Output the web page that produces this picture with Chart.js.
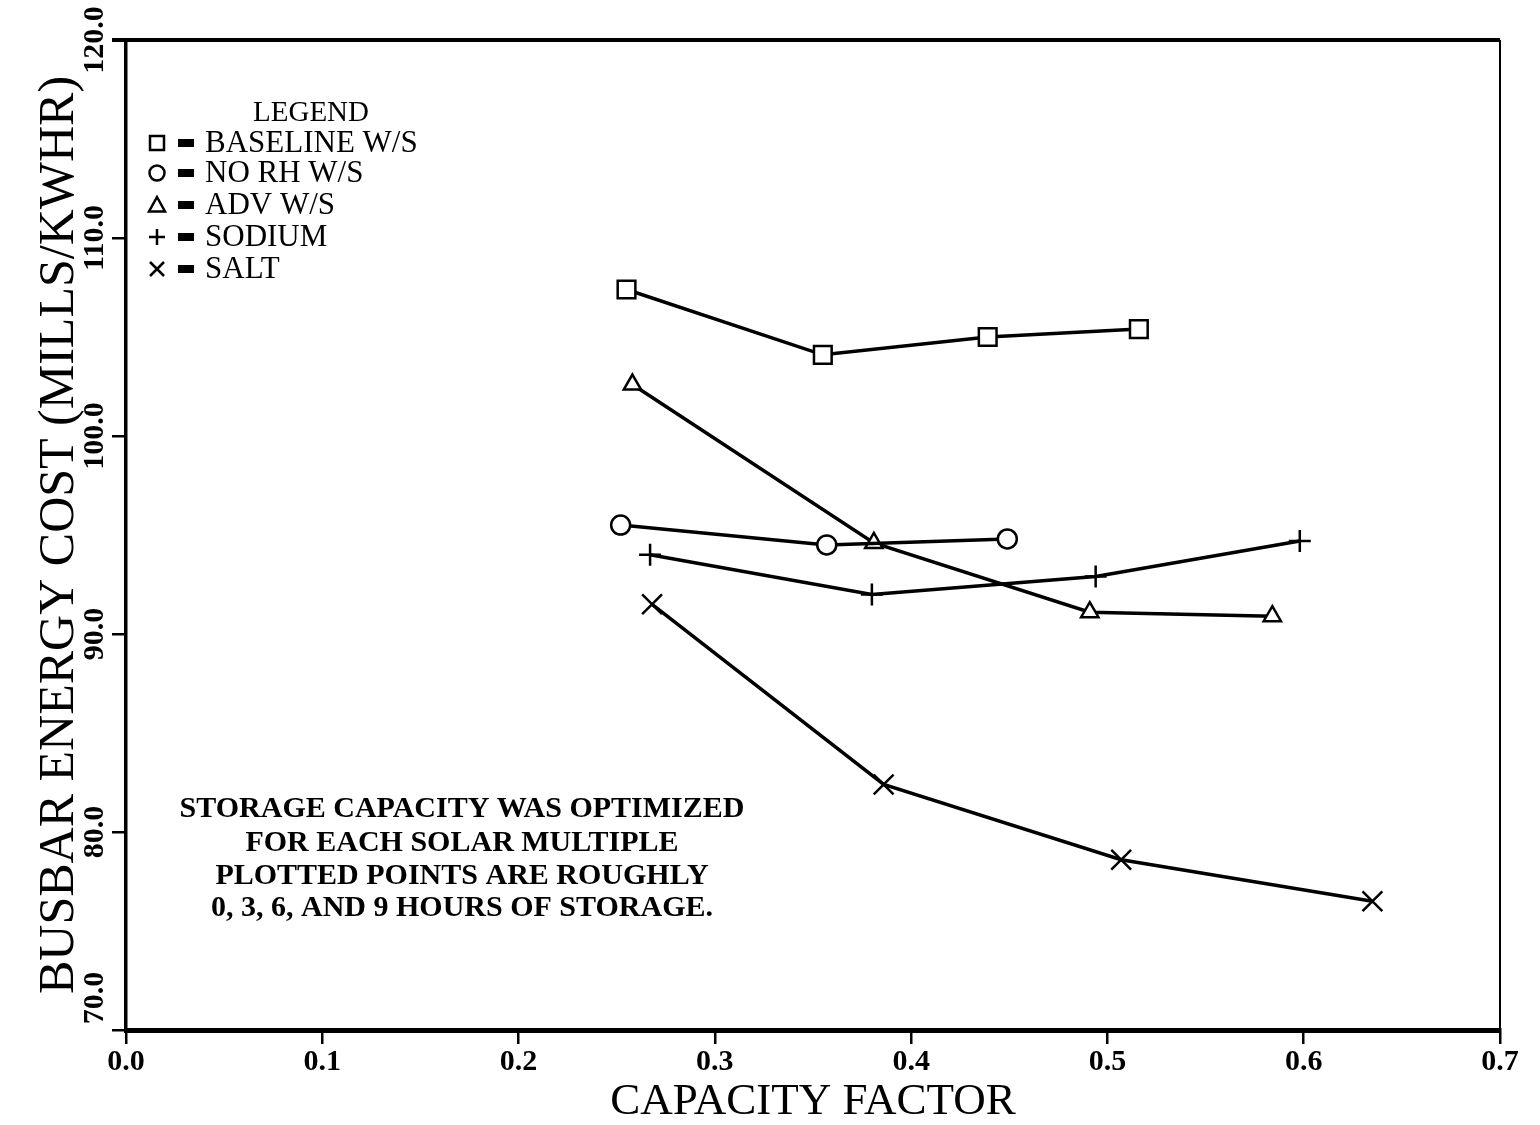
<!DOCTYPE html>
<html><head><meta charset="utf-8">
<script src="https://cdn.jsdelivr.net/npm/chart.js@4.4.0/dist/chart.umd.min.js"></script>
<style>html,body{margin:0;padding:0;background:#fff;}canvas{display:block;}</style>
</head><body>
<canvas id="c" width="1540" height="1125"></canvas>
<script>
// ---- data ----
const seriesNames = ['BASELINE W/S', 'NO RH W/S', 'ADV W/S', 'SODIUM', 'SALT'];
const baselineX = [0.255, 0.355, 0.439, 0.516];
const baselineY = [107.4, 104.1, 105.0, 105.4];
const noRhX = [0.252, 0.357, 0.449];
const noRhY = [95.5, 94.5, 94.8];
const advX = [0.258, 0.381, 0.491, 0.584];
const advY = [102.6, 94.6, 91.1, 90.9];
const sodiumX = [0.267, 0.380, 0.494, 0.598];
const sodiumY = [94.0, 92.0, 92.9, 94.7];
const saltX = [0.268, 0.386, 0.507, 0.635];
const saltY = [91.5, 82.4, 78.6, 76.5];
const xTicks = [0.0, 0.1, 0.2, 0.3, 0.4, 0.5, 0.6, 0.7];
const xTickLabels = ['0.0', '0.1', '0.2', '0.3', '0.4', '0.5', '0.6', '0.7'];
const yTicks = [70, 80, 90, 100, 110, 120];
const yTickLabels = ['70.0', '80.0', '90.0', '100.0', '110.0', '120.0'];
const xTitle = 'CAPACITY FACTOR';
const yTitle = 'BUSBAR ENERGY COST (MILLS/KWHR)';
const legendTitle = 'LEGEND';
const noteLines = ['STORAGE CAPACITY WAS OPTIMIZED', 'FOR EACH SOLAR MULTIPLE', 'PLOTTED POINTS ARE ROUGHLY', '0, 3, 6, AND 9 HOURS OF STORAGE.'];

const pts = (xs, ys) => xs.map((x, i) => ({x: x, y: ys[i]}));
const SERIF = '"Liberation Serif", "DejaVu Serif", serif';

function drawSym(ctx, style, x, y, r) {
  ctx.save();
  ctx.strokeStyle = '#000'; ctx.fillStyle = '#fff'; ctx.lineWidth = 2.5;
  ctx.beginPath();
  if (style === 'rect') { ctx.rect(x - r, y - r, 2 * r, 2 * r); ctx.fill(); ctx.stroke(); }
  else if (style === 'circle') { ctx.arc(x, y, r, 0, Math.PI * 2); ctx.fill(); ctx.stroke(); }
  else if (style === 'triangle') { ctx.moveTo(x, y - r); ctx.lineTo(x + r, y + r * 0.8); ctx.lineTo(x - r, y + r * 0.8); ctx.closePath(); ctx.fill(); ctx.stroke(); }
  else if (style === 'cross') { ctx.moveTo(x - r, y); ctx.lineTo(x + r, y); ctx.moveTo(x, y - r); ctx.lineTo(x, y + r); ctx.stroke(); }
  else if (style === 'crossRot') { ctx.moveTo(x - r, y - r); ctx.lineTo(x + r, y + r); ctx.moveTo(x + r, y - r); ctx.lineTo(x - r, y + r); ctx.stroke(); }
  ctx.restore();
}

const symStyles = ['rect', 'circle', 'triangle', 'cross', 'crossRot'];

const decor = {
  id: 'decor',
  beforeDraw(chart) {
    const c = chart.ctx; c.save(); c.fillStyle = '#fff'; c.fillRect(0, 0, chart.width, chart.height); c.restore();
  },
  afterDraw(chart) {
    const {ctx, chartArea: a, scales: {y}} = chart;
    ctx.save();
    ctx.strokeStyle = '#000';
    ctx.lineWidth = 4;
    ctx.beginPath(); ctx.moveTo(a.left - 14, a.top); ctx.lineTo(a.right, a.top); ctx.stroke();
    ctx.lineWidth = 2;
    ctx.beginPath(); ctx.moveTo(a.right, a.top); ctx.lineTo(a.right, a.bottom); ctx.stroke();

    // rotated y tick labels
    ctx.fillStyle = '#000';
    ctx.font = 'bold 30px ' + SERIF;
    ctx.textAlign = 'center'; ctx.textBaseline = 'middle';
    yTicks.forEach((v, i) => {
      let py = y.getPixelForValue(v);
      if (i === 0) py -= 32;
      ctx.save(); ctx.translate(a.left - 31, py); ctx.rotate(-Math.PI / 2); ctx.fillText(yTickLabels[i], 0, 0); ctx.restore();
    });

    // legend block
    ctx.font = '29px ' + SERIF;
    ctx.textAlign = 'center';
    ctx.fillText(legendTitle, 311, 113);
    const rowY = [143, 173, 205, 237, 269];
    const symR = [7, 7.5, 8, 8, 7];
    seriesNames.forEach((name, i) => {
      drawSym(ctx, symStyles[i], 157, rowY[i], symR[i]);
      ctx.fillStyle = '#000';
      ctx.fillRect(178, rowY[i] - 4, 16, 8);
      ctx.font = '31px ' + SERIF;
      ctx.textAlign = 'left';
      ctx.fillText(name, 205, rowY[i] + 1);
    });

    // annotation
    ctx.font = 'bold 30px ' + SERIF;
    ctx.textAlign = 'center';
    const noteY = [809, 843, 876, 908];
    noteLines.forEach((t, i) => ctx.fillText(t, 462, noteY[i]));
    ctx.restore();
  }
};

const common = {borderColor: '#000', borderWidth: 3.5, pointBorderColor: '#000', pointBackgroundColor: '#fff', pointBorderWidth: 2.5, tension: 0, fill: false};

new Chart(document.getElementById('c'), {
  type: 'line',
  data: {
    datasets: [
      Object.assign({label: seriesNames[0], data: pts(baselineX, baselineY), pointStyle: 'rect', pointRadius: 12.5}, common),
      Object.assign({label: seriesNames[1], data: pts(noRhX, noRhY), pointStyle: 'circle', pointRadius: 9.5}, common),
      Object.assign({label: seriesNames[2], data: pts(advX, advY), pointStyle: 'triangle', pointRadius: 10}, common),
      Object.assign({label: seriesNames[3], data: pts(sodiumX, sodiumY), pointStyle: 'cross', pointRadius: 11, pointBorderWidth: 3}, common),
      Object.assign({label: seriesNames[4], data: pts(saltX, saltY), pointStyle: 'crossRot', pointRadius: 14, pointBorderWidth: 3.5}, common)
    ]
  },
  options: {
    responsive: false,
    animation: false,
    events: [],
    layout: {padding: {left: 0, right: 40, top: 40, bottom: 0}},
    plugins: {legend: {display: false}, tooltip: {enabled: false}},
    scales: {
      x: {
        type: 'linear', min: 0, max: 0.7,
        afterBuildTicks: (s) => { s.ticks = xTicks.map(v => ({value: v})); },
        ticks: {
          color: '#000', padding: 3,
          font: {family: SERIF, size: 30, weight: 'bold', lineHeight: 1},
          callback: (v) => xTickLabels[xTicks.findIndex(t => Math.abs(t - v) < 1e-9)]
        },
        grid: {drawOnChartArea: false, drawTicks: true, tickLength: 14, color: '#000', lineWidth: 2.5},
        border: {display: true, color: '#000', width: 5},
        title: {display: true, text: xTitle, color: '#000', padding: {top: 0, bottom: 0}, font: {family: SERIF, size: 45, lineHeight: 1}}
      },
      y: {
        type: 'linear', min: 70, max: 120,
        afterBuildTicks: (s) => { s.ticks = yTicks.map(v => ({value: v})); },
        afterFit: (s) => { s.width = 126; },
        ticks: {display: false},
        grid: {drawOnChartArea: false, drawTicks: true, tickLength: 14, color: '#000', lineWidth: 2.5},
        border: {display: true, color: '#000', width: 3.5},
        title: {display: true, text: yTitle, color: '#000', padding: {top: 35, bottom: 0}, font: {family: SERIF, size: 50, lineHeight: 1}}
      }
    }
  },
  plugins: [decor]
});
</script>
</body></html>
